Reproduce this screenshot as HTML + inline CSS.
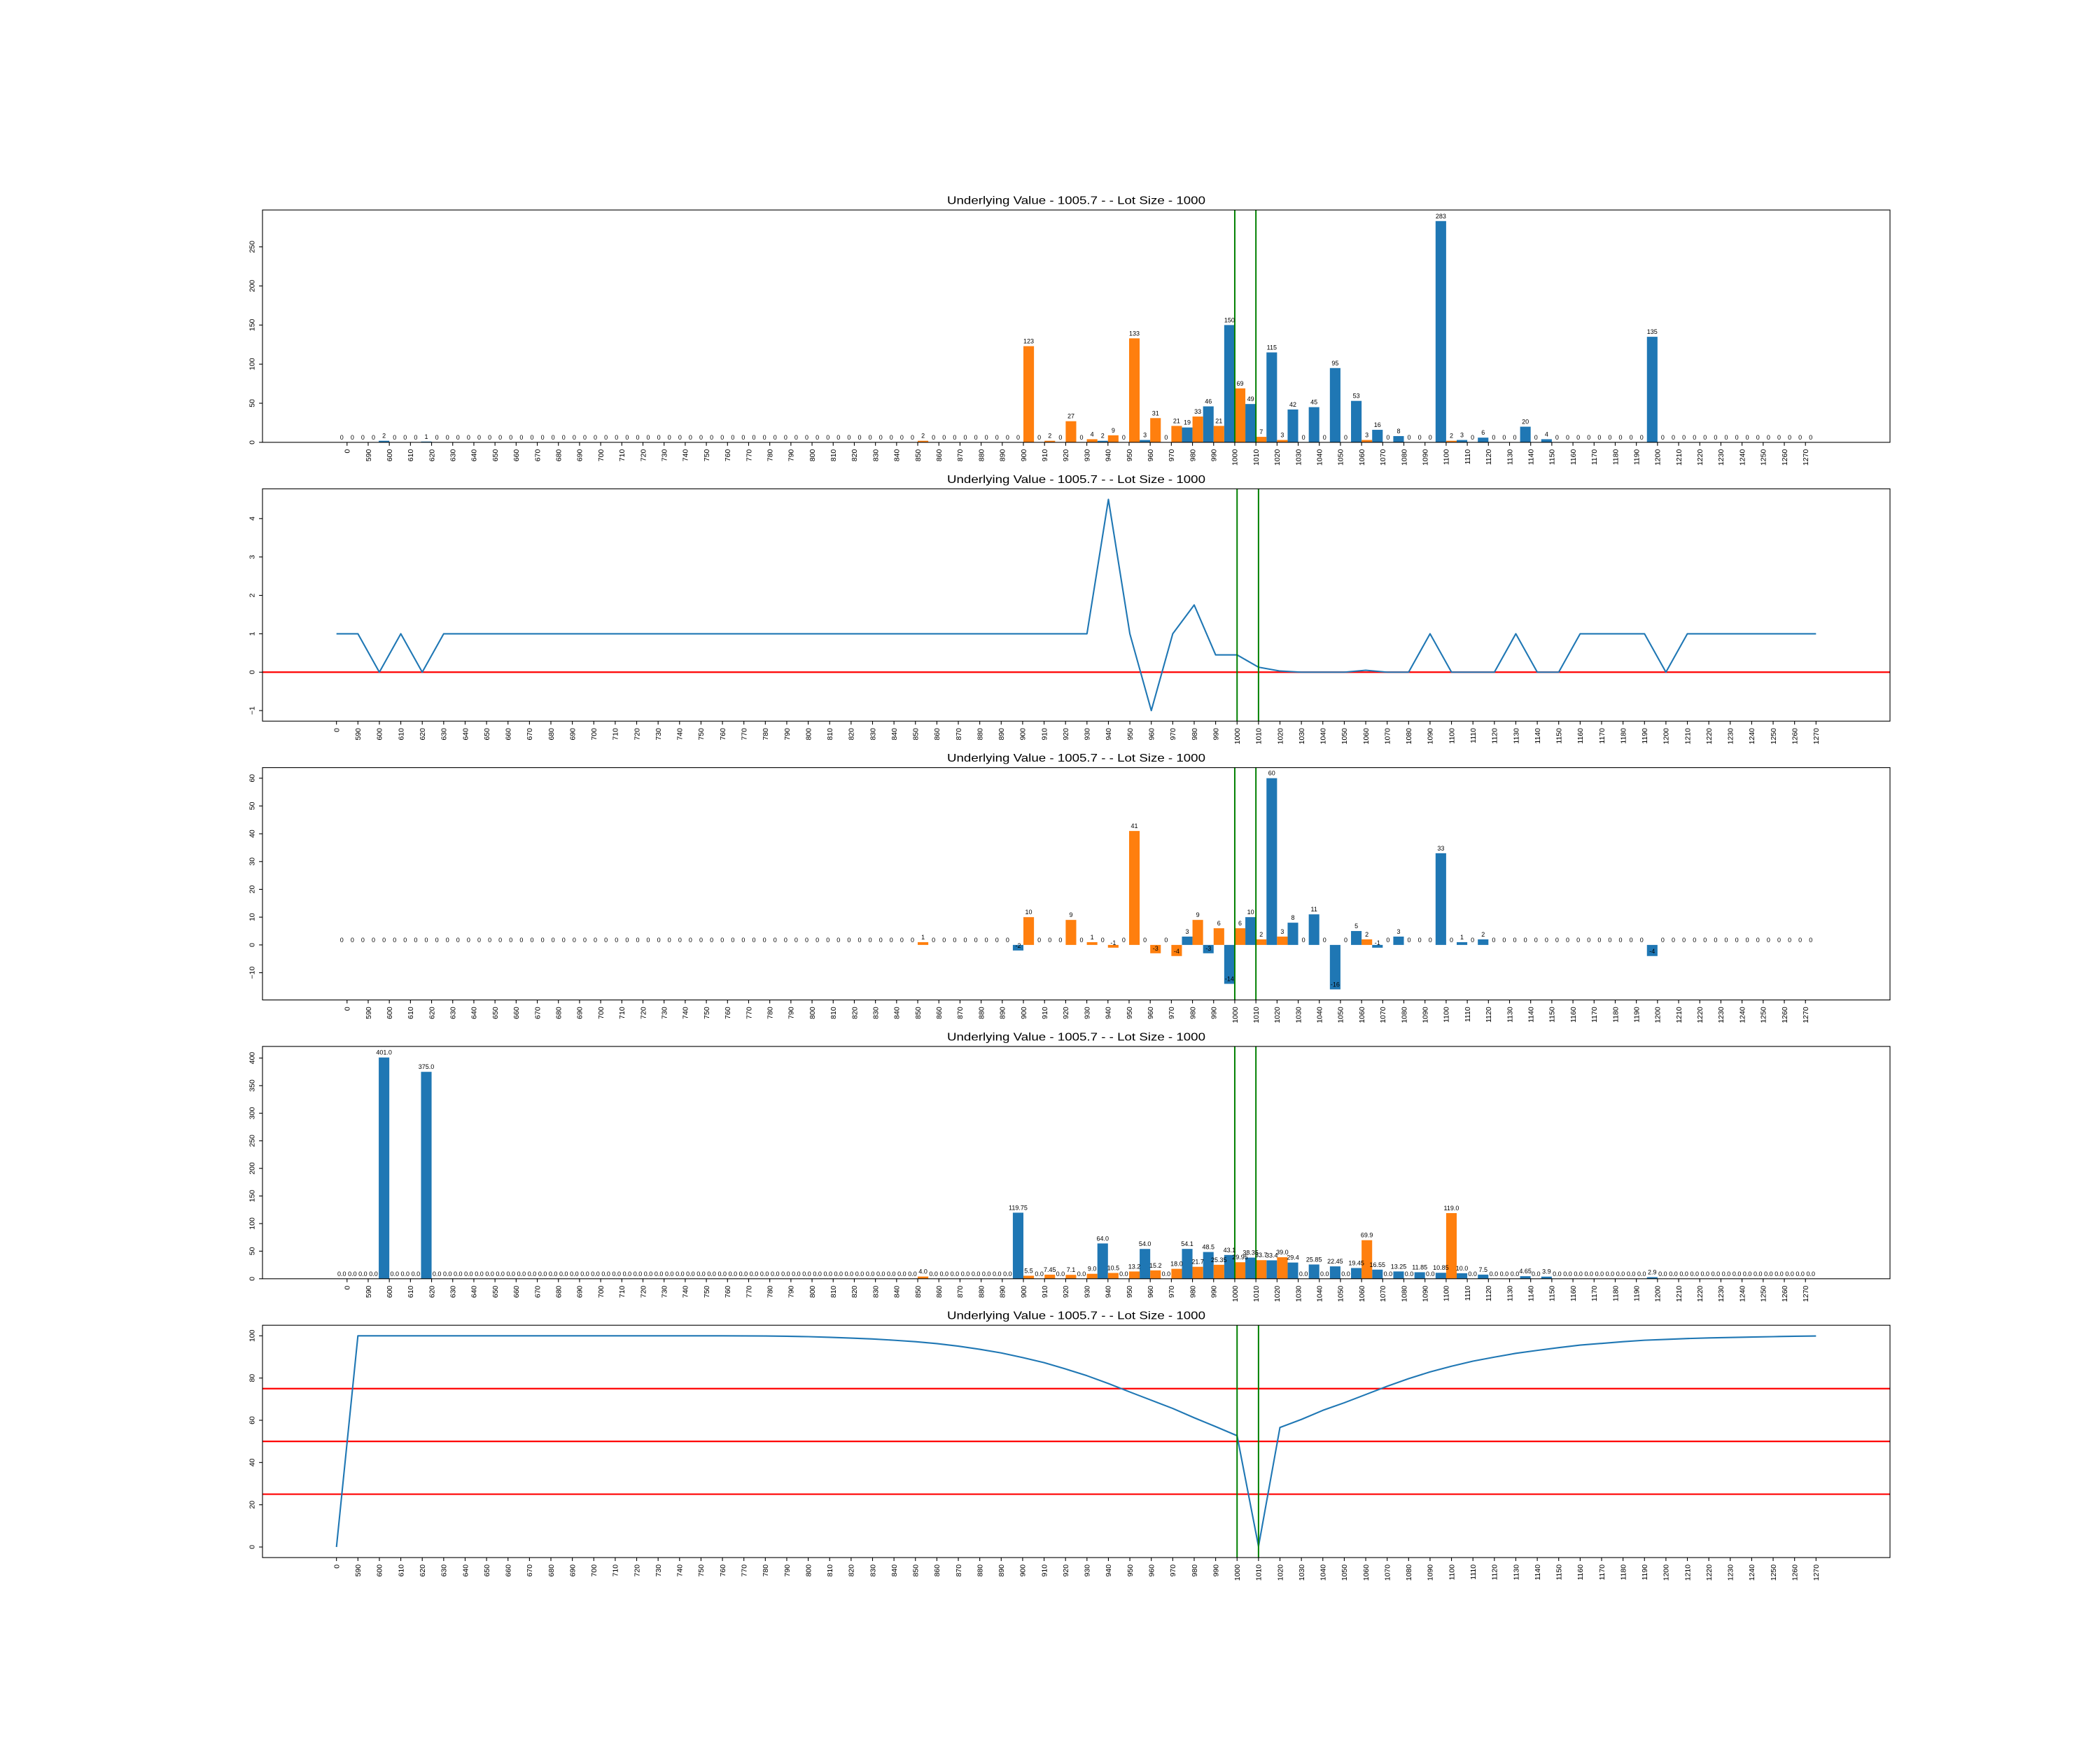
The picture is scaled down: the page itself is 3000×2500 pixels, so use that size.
<!DOCTYPE html>
<html><head><meta charset="utf-8"><style>
html,body{margin:0;padding:0;background:#fff;}
svg{display:block;}
text{font-family:"Liberation Sans","DejaVu Sans",sans-serif;fill:#000;}
</style></head>
<body>
<svg id="chart" width="3000" height="2500" viewBox="0 0 3000 2500" xmlns="http://www.w3.org/2000/svg"></svg>
<script>
const categories=["0","590","600","610","620","630","640","650","660","670","680","690","700","710","720","730","740","750","760","770","780","790","800","810","820","830","840","850","860","870","880","890","900","910","920","930","940","950","960","970","980","990","1000","1010","1020","1030","1040","1050","1060","1070","1080","1090","1100","1110","1120","1130","1140","1150","1160","1170","1180","1190","1200","1210","1220","1230","1240","1250","1260","1270"];
const titleText="Underlying Value - 1005.7 - - Lot Size - 1000";
const markerCats=["1000","1010"];

const p1Blue=[0,0,2,0,1,0,0,0,0,0, 0,0,0,0,0,0,0,0,0,0, 0,0,0,0,0,0,0,0,0,0, 0,0,0,0,0,0,2,0,3,0, 19,46,150,49,115,42,45,95,53,16, 8,0,283,3,6,0,20,4,0,0, 0,0,135,0,0,0,0,0,0,0];
const p1Orange=[0,0,0,0,0,0,0,0,0,0, 0,0,0,0,0,0,0,0,0,0, 0,0,0,0,0,0,0,2,0,0, 0,0,123,2,27,4,9,133,31,21, 33,21,69,7,3,0,0,0,3,0, 0,0,2,0,0,0,0,0,0,0, 0,0,0,0,0,0,0,0,0,0];
const p1Ticks=[0,50,100,150,200,250];

const p2Line=[1,1,0,1,0,1,1,1,1,1, 1,1,1,1,1,1,1,1,1,1, 1,1,1,1,1,1,1,1,1,1, 1,1,1,1,1,1,4.5,1,-1,1, 1.75,0.45,0.45,0.13,0.03,0,0,0,0.05,0, 0,1,0,0,0,1,0,0,1,1, 1,1,0,1,1,1,1,1,1,1];
const p2Ref=[0];
const p2Ticks=[-1,0,1,2,3,4];

const p3Blue=[0,0,0,0,0,0,0,0,0,0, 0,0,0,0,0,0,0,0,0,0, 0,0,0,0,0,0,0,0,0,0, 0,0,-2,0,0,0,0,0,0,0, 3,-3,-14,10,60,8,11,-16,5,-1, 3,0,33,1,2,0,0,0,0,0, 0,0,-4,0,0,0,0,0,0,0];
const p3Orange=[0,0,0,0,0,0,0,0,0,0, 0,0,0,0,0,0,0,0,0,0, 0,0,0,0,0,0,0,1,0,0, 0,0,10,0,9,1,-1,41,-3,-4, 9,6,6,2,3,0,0,0,2,0, 0,0,0,0,0,0,0,0,0,0, 0,0,0,0,0,0,0,0,0,0];
const p3Ticks=[-10,0,10,20,30,40,50,60];

const p4Blue=[0,0,401,0,375,0,0,0,0,0, 0,0,0,0,0,0,0,0,0,0, 0,0,0,0,0,0,0,0,0,0, 0,0,119.75,0,0,0,64,0,54,0, 54.1,48.5,43.1,38.35,33.4,29.4,25.85,22.45,19.45,16.55, 13.25,11.85,10.85,10,7.5,0,4.65,3.9,0,0, 0,0,2.9,0,0,0,0,0,0,0];
const p4Orange=[0,0,0,0,0,0,0,0,0,0, 0,0,0,0,0,0,0,0,0,0, 0,0,0,0,0,0,0,4,0,0, 0,0,5.5,7.45,7.1,9,10.5,13.2,15.2,18, 21.7,25.35,29.95,33.7,39,0,0,0,69.9,0, 0,0,119,0,0,0,0,0,0,0, 0,0,0,0,0,0,0,0,0,0];
const p4Ticks=[0,50,100,150,200,250,300,350,400];

const p5Line=[0,100,100,100,100,100,100,100,100,100, 100,100,100,100,100,100,100,100,100,99.95, 99.9,99.8,99.6,99.3,98.9,98.5,97.9,97.2,96.3,95.1, 93.6,91.9,89.7,87.3,84.3,81.1,77.4,73.4,69.5,65.6, 61.2,57.0,52.7,0.3,56.6,60.4,64.7,68.3,72.2,76.1, 79.7,82.9,85.6,88.0,89.9,91.7,93.1,94.4,95.6,96.4, 97.2,97.9,98.3,98.7,99.0,99.2,99.4,99.6,99.8,99.9];
const p5Ref=[25,50,75];
const p5Ticks=[0,20,40,60,80,100];

const NS="http://www.w3.org/2000/svg";
const svg=document.getElementById("chart");
const L=375,R=2700,PH=331.9,GAP=66.4,TOP0=300;
const BLUE="#1f77b4",ORANGE="#ff7f0e";
function mk(tag,attrs,parent){const e=document.createElementNS(NS,tag);for(const k in attrs)e.setAttribute(k,attrs[k]);(parent||svg).appendChild(e);return e;}
function fmtTick(v){return v<0?"\u2212"+Math.abs(v):String(v);}

function drawPanel(k,kind,series,refs,ticks,labelFmt){
  const n=categories.length;
  const top=TOP0+k*(PH+GAP),bot=top+PH;
  const g=mk("g",{});
  
  
  let x0,x1;
  if(kind==="bar"){x0=-0.5-0.05*n;x1=n-0.5+0.05*n;}
  else{x0=-0.05*(n-1);x1=(n-1)*1.05;}
  const xs=i=>L+(i-x0)/(x1-x0)*(R-L);
  let all=[];series.forEach(s=>all=all.concat(s));
  let mn=Math.min(...all),mx=Math.max(...all);
  let lo,hi;
  if(kind==="bar"){const a=Math.min(0,mn),b=Math.max(0,mx),r=b-a;lo=a<0?a-0.05*r:0;hi=b+0.05*r;}
  else{const r=mx-mn;lo=mn-0.05*r;hi=mx+0.05*r;}
  const ys=v=>bot-(v-lo)/(hi-lo)*PH;
  // clip
  const cid="clip"+k;
  const cp=mk("clipPath",{id:cid},g);mk("rect",{x:L,y:top,width:R-L,height:PH},cp);
  const plot=mk("g",{"clip-path":"url(#"+cid+")"},g);
  
  
  if(kind==="bar"){
    const cols=[BLUE,ORANGE];
    series.forEach((s,si)=>{
      s.forEach((v,i)=>{
        const xa=xs(i-0.5+si*0.5),xb=xs(i+si*0.5);
        const y0=ys(0),y1=ys(v);
        const r=mk("rect",{x:xa,y:Math.min(y0,y1),width:xb-xa,height:Math.abs(y1-y0),fill:cols[si]},plot);
        
        
      });
    });
    series.forEach((s,si)=>{
      s.forEach((v,i)=>{
        const t=mk("text",{x:(xs(i-0.5+si*0.5)+xs(i+si*0.5))/2,y:ys(v)-4,"font-size":"9","text-anchor":"middle"},g);
        t.textContent=labelFmt(v);
        
        
      });
    });
  }
  refs.forEach(rv=>{
    const ln=mk("line",{x1:L,x2:R,y1:ys(rv),y2:ys(rv),stroke:"#ff0000","stroke-width":"2.2"},plot);
    
    
  });
  if(kind==="line"){
    const pts=series[0].map((v,i)=>xs(i).toFixed(2)+","+ys(v).toFixed(2)).join(" ");
    const pl=mk("polyline",{points:pts,fill:"none",stroke:BLUE,"stroke-width":"2.1","stroke-linejoin":"round"},plot);
    
    
  }
  markerCats.forEach(c=>{
    const i=categories.indexOf(c);
    const ln=mk("line",{x1:xs(i),x2:xs(i),y1:top,y2:bot,stroke:"#008000","stroke-width":"2"},plot);
    
    
  });
  // frame
  const fr=mk("rect",{x:L,y:top,width:R-L,height:PH,fill:"none",stroke:"#000","stroke-width":"1.1"},g);
  
  
  // x ticks
  categories.forEach((c,i)=>{
    const x=xs(i);
    mk("line",{x1:x,x2:x,y1:bot,y2:bot+4.9,stroke:"#000","stroke-width":"1.1"},g);
    const t=mk("text",{x:x+3.8,y:bot+9.8,"font-size":"10.5","text-anchor":"end",transform:"rotate(-90 "+(x+3.8)+" "+(bot+9.8)+")"},g);
    t.textContent=c;
    
    
  });
  // y ticks
  ticks.forEach(v=>{
    const y=ys(v);
    mk("line",{x1:L-4.9,x2:L,y1:y,y2:y,stroke:"#000","stroke-width":"1.1"},g);
    const tx=L-11.5;
    const t=mk("text",{x:tx,y:y,"font-size":"10.5","text-anchor":"middle",transform:"rotate(-90 "+tx+" "+y+")"},g);
    t.textContent=fmtTick(v);
    
    
  });
  const tt=mk("text",{x:(L+R)/2,y:top-8.5,"font-size":"16","text-anchor":"middle",textLength:"369",lengthAdjust:"spacingAndGlyphs"},g);
  tt.textContent=titleText;
  
  
}
const intFmt=v=>String(v);
const decFmt=v=>Number.isInteger(v)?v.toFixed(1):String(v);
drawPanel(0,"bar",[p1Blue,p1Orange],[],p1Ticks,intFmt);
drawPanel(1,"line",[p2Line],p2Ref,p2Ticks,intFmt);
drawPanel(2,"bar",[p3Blue,p3Orange],[],p3Ticks,intFmt);
drawPanel(3,"bar",[p4Blue,p4Orange],[],p4Ticks,decFmt);
drawPanel(4,"line",[p5Line],p5Ref,p5Ticks,intFmt);
</script>
</body></html>
